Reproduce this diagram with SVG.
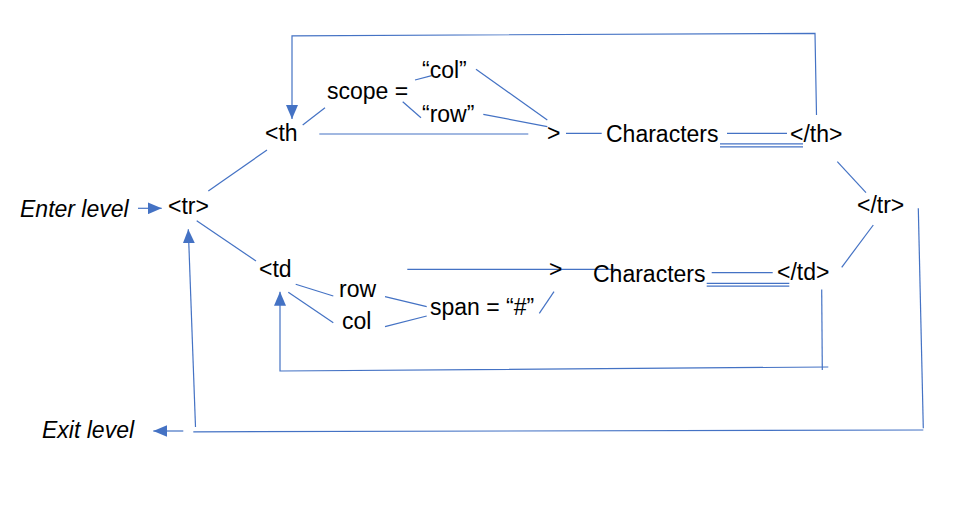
<svg xmlns="http://www.w3.org/2000/svg" width="967" height="520" viewBox="0 0 967 520">
<defs>
<style>
.t{font-family:"Liberation Sans",Arial,sans-serif;font-size:23px;fill:#000}
.i{font-style:italic}
.c{stroke:#4472C4;stroke-width:1.2;fill:none}
</style>
<marker id="ah" markerUnits="userSpaceOnUse" markerWidth="14" markerHeight="12" refX="14" refY="6" orient="auto">
<path d="M0,0 L14,6 L0,12 z" fill="#4472C4"/>
</marker>
</defs>
<rect width="967" height="520" fill="#fff"/>
<g id="connectors" class="c">
<!-- top loop back to <th -->
<polyline points="816.5,115 815,33.3 292,35.8 292,119" marker-end="url(#ah)"/>
<!-- th branch -->
<line x1="302.7" y1="125" x2="325" y2="107.7"/>
<line x1="415" y1="80" x2="431.7" y2="75.7"/>
<line x1="402.7" y1="101.7" x2="421" y2="117.7"/>
<line x1="476" y1="69.3" x2="547.3" y2="120"/>
<line x1="483.3" y1="114.3" x2="547.3" y2="126.7"/>
<line x1="319.3" y1="134" x2="528.3" y2="134"/>
<line x1="566" y1="133.3" x2="601.7" y2="133.3"/>
<line x1="727" y1="133.3" x2="787" y2="133.3"/>
<line x1="720" y1="143.8" x2="803" y2="143.8"/>
<line x1="720" y1="146.8" x2="803" y2="146.8"/>
<!-- tr links -->
<line x1="208.3" y1="191" x2="267" y2="150"/>
<line x1="196.7" y1="220.7" x2="256" y2="261"/>
<line x1="837.3" y1="161.7" x2="866" y2="192.7"/>
<line x1="873.3" y1="225" x2="841.7" y2="267.3"/>
<!-- enter arrow -->
<line x1="138" y1="208.3" x2="161.7" y2="208.3" marker-end="url(#ah)"/>
<!-- td branch -->
<line x1="295.7" y1="284.3" x2="333.3" y2="296"/>
<line x1="288.3" y1="292.3" x2="333.3" y2="322.7"/>
<line x1="385" y1="296.7" x2="426.7" y2="306.7"/>
<line x1="385" y1="326.7" x2="426.7" y2="316"/>
<line x1="539.3" y1="313.3" x2="554" y2="291.7"/>
<line x1="407.3" y1="269.3" x2="616.7" y2="269.3"/>
<line x1="711.7" y1="272.7" x2="772.7" y2="272.7"/>
<line x1="706.7" y1="283.3" x2="789.3" y2="283.3"/>
<line x1="706.7" y1="286.2" x2="789.3" y2="286.2"/>
<!-- bottom loop back to <td -->
<line x1="821.7" y1="289.5" x2="822.3" y2="370"/>
<polyline points="828.3,367 280,371 280,291.7" marker-end="url(#ah)"/>
<!-- exit loop -->
<line x1="918.3" y1="208.3" x2="923.3" y2="428.3"/>
<line x1="923.3" y1="430" x2="193.3" y2="431.8"/>
<line x1="195.5" y1="427" x2="188.3" y2="229.3" marker-end="url(#ah)"/>
<line x1="183.3" y1="431" x2="153.3" y2="431" marker-end="url(#ah)"/>
</g>
<g id="enter"><text class="t i" x="20" y="216.5">Enter level</text></g>
<g id="tr"><text class="t" x="168" y="214">&lt;tr&gt;</text></g>
<g id="th"><text class="t" x="265" y="140.5">&lt;th</text></g>
<g id="scope"><text class="t" x="327" y="99">scope =</text></g>
<g id="scope-col"><text class="t" x="422" y="78">“col”</text></g>
<g id="scope-row"><text class="t" x="422" y="122">“row”</text></g>
<g id="th-close-bracket"><text class="t" x="547" y="140.5">&gt;</text></g>
<g id="th-characters"><text class="t" x="606" y="141.5">Characters</text></g>
<g id="th-end"><text class="t" x="790" y="141.5">&lt;/th&gt;</text></g>
<g id="tr-end"><text class="t" x="857" y="213">&lt;/tr&gt;</text></g>
<g id="td"><text class="t" x="259" y="277">&lt;td</text></g>
<g id="td-row"><text class="t" x="339" y="297">row</text></g>
<g id="td-col"><text class="t" x="342" y="329">col</text></g>
<g id="span"><text class="t" x="430" y="315">span = “#”</text></g>
<g id="td-close-bracket"><text class="t" x="549" y="277">&gt;</text></g>
<g id="td-characters"><text class="t" x="593" y="281.5">Characters</text></g>
<g id="td-end"><text class="t" x="777" y="280">&lt;/td&gt;</text></g>
<g id="exit"><text class="t i" x="42" y="438">Exit level</text></g>
</svg>
